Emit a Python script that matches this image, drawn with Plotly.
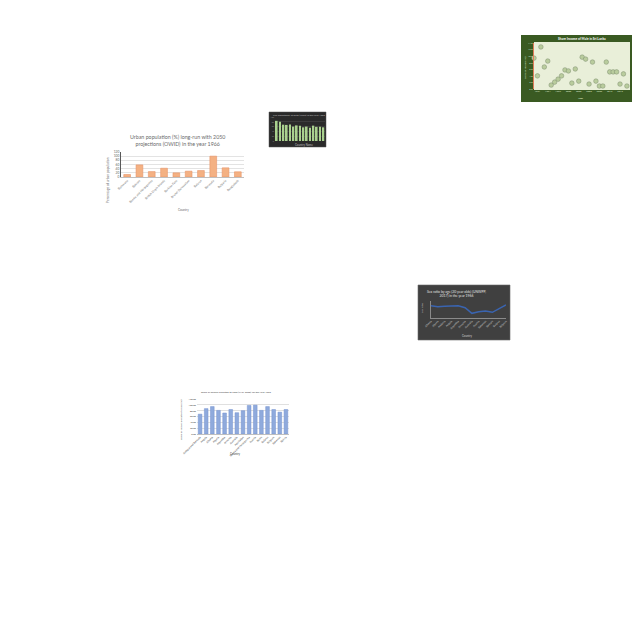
import plotly.graph_objects as go

W = 640.0

# ---------------- data ----------------
# Chart 1: Urban population (%) 1966
urban_countries = ["Botswana", "Bahrain", "Bosnia and Herzegovina", "British Virgin Islands",
                   "Burkina Faso", "Brunei Darussalam", "Belarus", "Bermuda", "Bulgaria", "Bangladesh"]
urban_values = [12, 58, 26, 42, 20, 28, 31, 100, 44, 25]

# Chart 2: Sri Lanka scatter
sl_years = list(range(1990, 2018))
sl_share = [9.4, 4.0, 12.8, 6.7, 8.5, 1.2, 2.1, 3.0, 4.0, 5.8, 5.5, 1.8, 6.1, 2.4, 9.7,
            9.1, 1.5, 8.2, 2.4, 0.9, 0.9, 8.2, 5.2, 5.2, 5.2, 1.5, 4.6, 0.9]

# Chart 3: small dark bar chart
dark_countries = ["Japan", "Iceland", "Sweden", "Norway", "Netherlands", "Denmark", "Switzerland",
                  "Canada", "Israel", "Australia", "Greece", "Spain", "France", "Italy", "Malta"]
dark_values = [84, 80, 68, 67, 69, 60, 65, 64, 57, 60, 55, 64, 59, 59, 57]

# Chart 4: Sex ratio line
sex_countries = ["Albania", "Algeria", "Andorra", "Angola", "Argentina", "Armenia",
                 "Australia", "Austria", "Bahamas", "Bahrain", "Belarus", "Belgium"]
sex_values = [102.7, 102.0, 102.3, 102.5, 102.7, 101.3, 97.3, 98.4, 98.9, 98.0, 100.4, 103.2]

# Chart 5: Share of cereals allocated to food
cereal_countries = ["Antigua and Barbuda", "Angola", "Albania", "Algeria", "Argentina", "Armenia",
                    "Australia", "Azerbaijan", "Bosnia and Herzegovina", "Austria", "Benin",
                    "Belarus", "Belgium", "Bahamas", "Bolivia"]
cereal_values = [68, 87, 94, 81, 72, 84, 73, 80, 98, 99, 81, 94, 84, 75, 84]


def dx(x0, x1):
    return [x0 / W, x1 / W]


def dy(y0, y1):
    return [1 - y1 / W, 1 - y0 / W]


def px(x):
    return x / W


def py(y):
    return 1 - y / W


FONT = "Lato"
fig = go.Figure()

# ---- Chart 1 ----
fig.add_trace(go.Bar(x=urban_countries, y=urban_values, xaxis="x", yaxis="y", width=0.55,
                     marker=dict(color="#f4b183", line=dict(color="#e8956a", width=0.6)),
                     showlegend=False))
# ---- Chart 2 ----
fig.add_trace(go.Scatter(x=sl_years, y=sl_share, xaxis="x2", yaxis="y2", mode="markers",
                         marker=dict(size=4.6, color="#b9cc9d", line=dict(color="#7f8f70", width=0.5)),
                         cliponaxis=False, showlegend=False))
# ---- Chart 3 ----
fig.add_trace(go.Bar(x=dark_countries, y=dark_values, xaxis="x3", yaxis="y3", width=0.55,
                     marker=dict(color="#a9d18e", line=dict(width=0)), showlegend=False))
# ---- Chart 4 ----
fig.add_trace(go.Scatter(x=sex_countries, y=sex_values, xaxis="x4", yaxis="y4", mode="lines",
                         line=dict(color="#3a64b0", width=1.5), showlegend=False))
# ---- Chart 5 ----
fig.add_trace(go.Bar(x=cereal_countries, y=cereal_values, xaxis="x5", yaxis="y5", width=0.6,
                     marker=dict(color="#8faadc", line=dict(color="#7593d0", width=0.5)),
                     showlegend=False))

shapes = [
    # chart 2 boxes
    dict(type="rect", xref="paper", yref="paper", x0=px(521), x1=px(632), y0=py(102), y1=py(35),
         fillcolor="#3a5a22", line=dict(width=0), layer="below"),
    dict(type="rect", xref="paper", yref="paper", x0=px(534), x1=px(630), y0=py(90), y1=py(42),
         fillcolor="#e9efd9", line=dict(width=0), layer="below"),
    # chart 3 box
    dict(type="rect", xref="paper", yref="paper", x0=px(269), x1=px(326), y0=py(147), y1=py(112),
         fillcolor="#2a2a2a", line=dict(color="#555555", width=0.5), layer="below"),
    # chart 4 box
    dict(type="rect", xref="paper", yref="paper", x0=px(418), x1=px(510), y0=py(340), y1=py(285),
         fillcolor="#404040", line=dict(color="#6a6a6a", width=0.6), layer="below"),
]

annotations = [
    # chart 1
    dict(text="Urban population (%) long-run with 2050<br>projections (OWID) in the year 1966",
         x=px(177), y=py(140), font=dict(size=5.3, color="#6b6b6b", family=FONT)),
    dict(text="Percentage of urban population", x=px(108), y=py(180), textangle=-90,
         font=dict(size=3.3, color="#6b6b6b", family=FONT)),
    dict(text="Country", x=px(183), y=py(210), font=dict(size=3, color="#6b6b6b", family=FONT)),
    # chart 2
    dict(text="<b>Share Income of Male in Sri Lanka</b>", x=px(582), y=py(38.5),
         font=dict(size=3.2, color="#ffffff", family=FONT)),
    dict(text="Share of income (%)", x=px(525), y=py(68), textangle=-90,
         font=dict(size=2.6, color="#dfe8d0", family=FONT)),
    dict(text="<b>Year</b>", x=px(580), y=py(98), font=dict(size=2.6, color="#dfe8d0", family=FONT)),
    # chart 3
    dict(text="Life expectancy at birth (years) in the year 1966", x=px(299), y=py(115),
         font=dict(size=2.5, color="#bfbfbf", family=FONT)),
    dict(text="Country Name", x=px(304), y=py(144.5), font=dict(size=2.8, color="#bfbfbf", family=FONT)),
    # chart 4
    dict(text="Sex ratio by age (20 year olds) (UNWPP,<br>2017) in the year 1966", x=px(456),
         y=py(293.5), font=dict(size=3.4, color="#e0e0e0", family=FONT)),
    dict(text="Sex ratio", x=px(422), y=py(308), textangle=-90,
         font=dict(size=2.6, color="#cfcfcf", family=FONT)),
    dict(text="Country", x=px(467), y=py(336), font=dict(size=2.8, color="#cfcfcf", family=FONT)),
    # chart 5
    dict(text="Share of cereals allocated to food (FAO, 2020) for the Year 1966", x=px(236),
         y=py(392), font=dict(size=2.5, color="#404040", family=FONT)),
    dict(text="Share of cereals allocated to food (%)", x=px(181), y=py(420), textangle=-90,
         font=dict(size=2.5, color="#404040", family=FONT)),
    dict(text="Country", x=px(235), y=py(454), font=dict(size=2.8, color="#404040", family=FONT)),
]
for a in annotations:
    a.update(xref="paper", yref="paper", showarrow=False, xanchor="center", yanchor="middle")

base_axis = dict(automargin=False, zeroline=False, fixedrange=True)

fig.update_layout(
    width=640, height=640, margin=dict(l=0, r=0, t=0, b=0),
    paper_bgcolor="#ffffff", plot_bgcolor="rgba(0,0,0,0)",
    font=dict(family=FONT),
    shapes=shapes, annotations=annotations,
    # chart 1
    xaxis=dict(base_axis, domain=dx(121, 244), anchor="y", type="category", tickangle=-45,
               tickfont=dict(size=3, color="#6b6b6b"), showline=True, linecolor="#bfbfbf",
               linewidth=0.6, ticks="", showgrid=False),
    yaxis=dict(base_axis, domain=dy(152, 177), anchor="x", range=[0, 120], dtick=20,
               tickfont=dict(size=3.3, color="#6b6b6b"), showline=True, linecolor="#595959",
               linewidth=0.8, gridcolor="#e3e3e3", gridwidth=0.5, ticks=""),
    # chart 2
    xaxis2=dict(base_axis, domain=dx(534, 630), anchor="y2", range=[1990, 2017.9], tick0=1991,
                dtick=3, tickfont=dict(size=2.4, color="#dfe8d0"), showgrid=False, ticks="",
                showline=False),
    yaxis2=dict(base_axis, domain=dy(43, 89), anchor="x2", range=[0, 14], dtick=2,
                tickformat=".1f", tickfont=dict(size=2.4, color="#dfe8d0"), showgrid=False,
                ticks="", showline=True, linecolor="#e07b5a", linewidth=0.8),
    # chart 3
    xaxis3=dict(base_axis, domain=dx(275, 325), anchor="y3", type="category", showticklabels=False,
                showgrid=False, ticks="", showline=False),
    yaxis3=dict(base_axis, domain=dy(117, 141), anchor="x3", range=[0, 100], dtick=20,
                tickfont=dict(size=2, color="#8a8a8a"), gridcolor="#3c3c3c", gridwidth=0.4,
                ticks="", showline=False),
    # chart 4
    xaxis4=dict(base_axis, domain=dx(431, 506), anchor="y4", type="category", tickangle=-45,
                tickfont=dict(size=2.6, color="#cfcfcf"), showgrid=False, ticks="",
                showline=True, linecolor="#8a8a8a", linewidth=0.6),
    yaxis4=dict(base_axis, domain=dy(301, 318), anchor="x4", range=[94, 106],
                showticklabels=False, showgrid=False, ticks="", showline=True,
                linecolor="#8a8a8a", linewidth=0.6),
    # chart 5
    xaxis5=dict(base_axis, domain=dx(197, 289), anchor="y5", type="category", tickangle=-45,
                tickfont=dict(size=2.6, color="#404040"), showgrid=False, ticks="",
                showline=True, linecolor="#bfbfbf", linewidth=0.5),
    yaxis5=dict(base_axis, domain=dy(399, 434), anchor="x5", range=[0, 120], dtick=20,
                tickformat=".2f", tickfont=dict(size=2.4, color="#404040"), gridcolor="#e0e0e0",
                gridwidth=0.4, ticks="", showline=False),
)

fig.write_html("out.html", config=dict(displayModeBar=False))
